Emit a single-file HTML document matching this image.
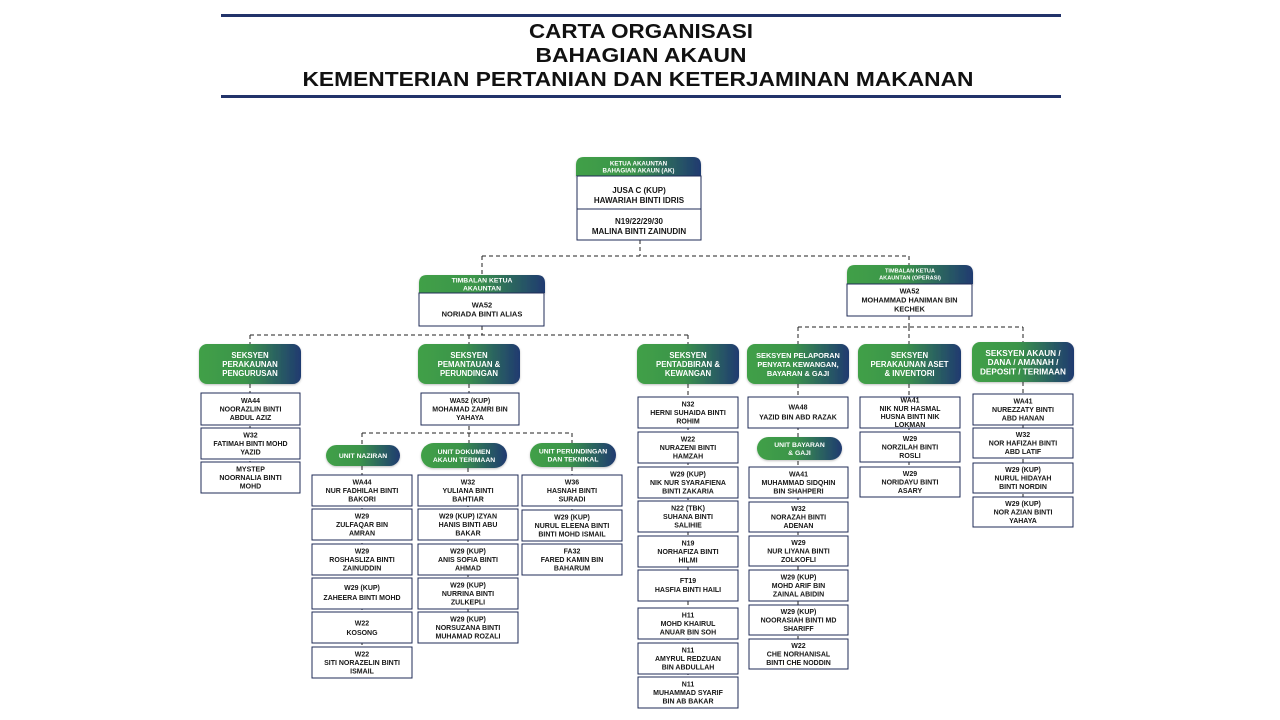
<!DOCTYPE html>
<html><head><meta charset="utf-8"><style>
html,body{margin:0;padding:0;background:#fff;}
svg{display:block;}
.ti{font-family:"Liberation Sans",sans-serif;font-weight:bold;font-size:20px;fill:#111;text-anchor:middle;}
.t{font-family:"Liberation Sans",sans-serif;font-weight:bold;font-size:7px;fill:#161616;text-anchor:middle;}
.tb{font-family:"Liberation Sans",sans-serif;font-weight:bold;font-size:8px;fill:#161616;text-anchor:middle;}
.tm{font-family:"Liberation Sans",sans-serif;font-weight:bold;font-size:7.5px;fill:#161616;text-anchor:middle;}
.w{font-family:"Liberation Sans",sans-serif;font-weight:bold;font-size:7.8px;fill:#fff;text-anchor:middle;}
.ws{font-family:"Liberation Sans",sans-serif;font-weight:bold;font-size:6.8px;fill:#fff;text-anchor:middle;}
.wt{font-family:"Liberation Sans",sans-serif;font-weight:bold;font-size:6.2px;fill:#fff;text-anchor:middle;}
.b{fill:#fff;stroke:#1f2b57;stroke-width:1;}
.p{fill:url(#g);filter:url(#s);}
.d{stroke:#222;stroke-width:1;stroke-dasharray:4 3;fill:none;}
</style></head><body>
<svg width="1280" height="720" viewBox="0 0 1280 720" xmlns="http://www.w3.org/2000/svg">
<defs>
<linearGradient id="g" x1="0" y1="0" x2="1" y2="0">
<stop offset="0" stop-color="#41a047"/>
<stop offset="0.45" stop-color="#3b944a"/>
<stop offset="0.75" stop-color="#2b6360"/>
<stop offset="1" stop-color="#1f3a70"/>
</linearGradient>
<filter id="s" x="-10%" y="-10%" width="120%" height="130%"><feDropShadow dx="0" dy="1" stdDeviation="1" flood-opacity="0.25"/></filter>
</defs>
<rect width="1280" height="720" fill="#fff"/>

<!-- Title -->
<rect x="221" y="14" width="840" height="3" fill="#22336a"/>
<rect x="221" y="95" width="840" height="3" fill="#22336a"/>
<text class="ti" x="641" y="38" textLength="224" lengthAdjust="spacingAndGlyphs">CARTA ORGANISASI</text>
<text class="ti" x="641" y="62" textLength="211" lengthAdjust="spacingAndGlyphs">BAHAGIAN AKAUN</text>
<text class="ti" x="638" y="86" textLength="671" lengthAdjust="spacingAndGlyphs">KEMENTERIAN PERTANIAN DAN KETERJAMINAN MAKANAN</text>

<!-- Connectors -->
<g class="d">
<path d="M640 240V256M482 256H909M482 256V275M909 256V265"/>
<path d="M482 326V335M250 335H688M250 335V344M469 335V344M688 335V344"/>
<path d="M909 316V327M798 327H1023M798 327V344M909 327V344M1023 327V342"/>
<path d="M250 384V462"/>
<path d="M469 384V433M362 433H572M362 433V445M469 433V443M572 433V443"/>
<path d="M362 466V647M468 468V612M572 467V545"/>
<path d="M688 384V677"/>
<path d="M798 384V639"/>
<path d="M909 384V467"/>
<path d="M1023 382V497"/>
</g>

<!-- Top node -->
<path class="p" d="M576 176V165Q576 157 584 157H693Q701 157 701 165V176Z"/>
<text class="wt" x="638.5" y="165.5">KETUA AKAUNTAN</text>
<text class="wt" x="638.5" y="172.5">BAHAGIAN AKAUN (AK)</text>
<rect class="b" x="577" y="176" width="124" height="64"/>
<line x1="577" y1="209" x2="701" y2="209" stroke="#1f2b57" stroke-width="1"/>
<text class="tb" x="639" y="193">JUSA C (KUP)</text>
<text class="tb" x="639" y="203">HAWARIAH BINTI IDRIS</text>
<text class="tb" x="639" y="224">N19/22/29/30</text>
<text class="tb" x="639" y="234">MALINA BINTI ZAINUDIN</text>

<!-- Left Timbalan -->
<path class="p" d="M419 293V283Q419 275 427 275H537Q545 275 545 283V293Z"/>
<text class="ws" x="482" y="282.5">TIMBALAN KETUA</text>
<text class="ws" x="482" y="290.5">AKAUNTAN</text>
<rect class="b" x="419" y="293" width="125" height="33"/>
<text class="tm" x="482" y="307.7">WA52</text>
<text class="tm" x="482" y="316.7">NORIADA BINTI ALIAS</text>

<!-- Right Timbalan -->
<path class="p" d="M847 284V273Q847 265 855 265H965Q973 265 973 273V284Z"/>
<text class="wt" x="910" y="272.5" style="font-size:5.6px">TIMBALAN KETUA</text>
<text class="wt" x="910" y="279.5" style="font-size:5.6px">AKAUNTAN (OPERASI)</text>
<rect class="b" x="847" y="284" width="125" height="32"/>
<text class="t" x="909.5" y="293.7" style="font-size:7.3px">WA52</text>
<text class="t" x="909.5" y="302.7" style="font-size:7.3px">MOHAMMAD HANIMAN BIN</text>
<text class="t" x="909.5" y="311.7" style="font-size:7.3px">KECHEK</text>

<!-- Section pills -->
<rect class="p" x="199" y="344" width="102" height="40" rx="8"/>
<text class="w" x="250" y="358">SEKSYEN</text><text class="w" x="250" y="367">PERAKAUNAN</text><text class="w" x="250" y="376">PENGURUSAN</text>

<rect class="p" x="418" y="344" width="102" height="40" rx="8"/>
<text class="w" x="469" y="358">SEKSYEN</text><text class="w" x="469" y="367">PEMANTAUAN &amp;</text><text class="w" x="469" y="376">PERUNDINGAN</text>

<rect class="p" x="637" y="344" width="102" height="40" rx="8"/>
<text class="w" x="688" y="358">SEKSYEN</text><text class="w" x="688" y="367">PENTADBIRAN &amp;</text><text class="w" x="688" y="376">KEWANGAN</text>

<rect class="p" x="747" y="344" width="102" height="40" rx="8"/>
<text class="w" x="798" y="358" style="font-size:7.4px">SEKSYEN PELAPORAN</text><text class="w" x="798" y="367" style="font-size:7.4px">PENYATA KEWANGAN,</text><text class="w" x="798" y="376" style="font-size:7.4px">BAYARAN &amp; GAJI</text>

<rect class="p" x="858" y="344" width="103" height="40" rx="8"/>
<text class="w" x="909.5" y="358">SEKSYEN</text><text class="w" x="909.5" y="367">PERAKAUNAN ASET</text><text class="w" x="909.5" y="376">&amp; INVENTORI</text>

<rect class="p" x="972" y="342" width="102" height="40" rx="8"/>
<text class="w" x="1023" y="356" style="font-size:8.2px">SEKSYEN AKAUN /</text><text class="w" x="1023" y="365" style="font-size:8.2px">DANA / AMANAH /</text><text class="w" x="1023" y="374.5" style="font-size:8.2px">DEPOSIT / TERIMAAN</text>

<!-- Sec1 boxes -->
<rect class="b" x="201" y="393" width="99" height="32"/>
<text class="t" x="250.5" y="403">WA44</text><text class="t" x="250.5" y="411.5">NOORAZLIN BINTI</text><text class="t" x="250.5" y="420">ABDUL AZIZ</text>
<rect class="b" x="201" y="428" width="99" height="31"/>
<text class="t" x="250.5" y="437.5">W32</text><text class="t" x="250.5" y="446">FATIMAH BINTI MOHD</text><text class="t" x="250.5" y="454.5">YAZID</text>
<rect class="b" x="201" y="462" width="99" height="31"/>
<text class="t" x="250.5" y="471.5">MYSTEP</text><text class="t" x="250.5" y="480">NOORNALIA BINTI</text><text class="t" x="250.5" y="488.5">MOHD</text>

<!-- Sec2 box -->
<rect class="b" x="421" y="393" width="98" height="32"/>
<text class="t" x="470" y="403">WA52 (KUP)</text><text class="t" x="470" y="411.5">MOHAMAD ZAMRI BIN</text><text class="t" x="470" y="420">YAHAYA</text>

<!-- Unit pills -->
<rect class="p" x="326" y="445" width="74" height="21" rx="10.5"/>
<text class="ws" x="363" y="458">UNIT NAZIRAN</text>
<rect class="p" x="421" y="443" width="86" height="25" rx="12.5"/>
<text class="ws" x="464" y="454">UNIT DOKUMEN</text><text class="ws" x="464" y="462">AKAUN TERIMAAN</text>
<rect class="p" x="530" y="443" width="86" height="24" rx="12"/>
<text class="ws" x="573" y="453.5">UNIT PERUNDINGAN</text><text class="ws" x="573" y="461.5">DAN TEKNIKAL</text>

<!-- Naziran boxes -->
<rect class="b" x="312" y="475" width="100" height="31"/>
<text class="t" x="362" y="484.5">WA44</text><text class="t" x="362" y="493">NUR FADHILAH BINTI</text><text class="t" x="362" y="501.5">BAKORI</text>
<rect class="b" x="312" y="509" width="100" height="31"/>
<text class="t" x="362" y="518.5">W29</text><text class="t" x="362" y="527">ZULFAQAR BIN</text><text class="t" x="362" y="535.5">AMRAN</text>
<rect class="b" x="312" y="544" width="100" height="31"/>
<text class="t" x="362" y="553.5">W29</text><text class="t" x="362" y="562">ROSHASLIZA BINTI</text><text class="t" x="362" y="570.5">ZAINUDDIN</text>
<rect class="b" x="312" y="578" width="100" height="31"/>
<text class="t" x="362" y="590">W29 (KUP)</text><text class="t" x="362" y="600">ZAHEERA BINTI MOHD</text>
<rect class="b" x="312" y="612" width="100" height="31"/>
<text class="t" x="362" y="625.5">W22</text><text class="t" x="362" y="635">KOSONG</text>
<rect class="b" x="312" y="647" width="100" height="31"/>
<text class="t" x="362" y="656.5">W22</text><text class="t" x="362" y="665">SITI NORAZELIN BINTI</text><text class="t" x="362" y="673.5">ISMAIL</text>

<!-- Dokumen boxes -->
<rect class="b" x="418" y="475" width="100" height="31"/>
<text class="t" x="468" y="484.5">W32</text><text class="t" x="468" y="493">YULIANA BINTI</text><text class="t" x="468" y="501.5">BAHTIAR</text>
<rect class="b" x="418" y="509" width="100" height="31"/>
<text class="t" x="468" y="518.5">W29 (KUP) IZYAN</text><text class="t" x="468" y="527">HANIS BINTI ABU</text><text class="t" x="468" y="535.5">BAKAR</text>
<rect class="b" x="418" y="544" width="100" height="31"/>
<text class="t" x="468" y="553.5">W29 (KUP)</text><text class="t" x="468" y="562">ANIS SOFIA BINTI</text><text class="t" x="468" y="570.5">AHMAD</text>
<rect class="b" x="418" y="578" width="100" height="31"/>
<text class="t" x="468" y="587.5">W29 (KUP)</text><text class="t" x="468" y="596">NURRINA BINTI</text><text class="t" x="468" y="604.5">ZULKEPLI</text>
<rect class="b" x="418" y="612" width="100" height="31"/>
<text class="t" x="468" y="621.5">W29 (KUP)</text><text class="t" x="468" y="630">NORSUZANA BINTI</text><text class="t" x="468" y="638.5">MUHAMAD ROZALI</text>

<!-- Perundingan boxes -->
<rect class="b" x="522" y="475" width="100" height="31"/>
<text class="t" x="572" y="484.5">W36</text><text class="t" x="572" y="493">HASNAH BINTI</text><text class="t" x="572" y="501.5">SURADI</text>
<rect class="b" x="522" y="510" width="100" height="31"/>
<text class="t" x="572" y="519.5">W29 (KUP)</text><text class="t" x="572" y="528">NURUL ELEENA BINTI</text><text class="t" x="572" y="536.5">BINTI MOHD ISMAIL</text>
<rect class="b" x="522" y="544" width="100" height="31"/>
<text class="t" x="572" y="553.5">FA32</text><text class="t" x="572" y="562">FARED KAMIN BIN</text><text class="t" x="572" y="570.5">BAHARUM</text>

<!-- Sec3 boxes -->
<rect class="b" x="638" y="397" width="100" height="31"/>
<text class="t" x="688" y="406.5">N32</text><text class="t" x="688" y="415">HERNI SUHAIDA BINTI</text><text class="t" x="688" y="423.5">ROHIM</text>
<rect class="b" x="638" y="432" width="100" height="31"/>
<text class="t" x="688" y="441.5">W22</text><text class="t" x="688" y="450">NURAZENI BINTI</text><text class="t" x="688" y="458.5">HAMZAH</text>
<rect class="b" x="638" y="467" width="100" height="31"/>
<text class="t" x="688" y="476.5">W29 (KUP)</text><text class="t" x="688" y="485">NIK NUR SYARAFIENA</text><text class="t" x="688" y="493.5">BINTI ZAKARIA</text>
<rect class="b" x="638" y="501" width="100" height="31"/>
<text class="t" x="688" y="510.5">N22 (TBK)</text><text class="t" x="688" y="519">SUHANA BINTI</text><text class="t" x="688" y="527.5">SALIHIE</text>
<rect class="b" x="638" y="536" width="100" height="31"/>
<text class="t" x="688" y="545.5">N19</text><text class="t" x="688" y="554">NORHAFIZA BINTI</text><text class="t" x="688" y="562.5">HILMI</text>
<rect class="b" x="638" y="570" width="100" height="31"/>
<text class="t" x="688" y="583">FT19</text><text class="t" x="688" y="592">HASFIA BINTI HAILI</text>
<rect class="b" x="638" y="608" width="100" height="31"/>
<text class="t" x="688" y="617.5">H11</text><text class="t" x="688" y="626">MOHD KHAIRUL</text><text class="t" x="688" y="634.5">ANUAR BIN SOH</text>
<rect class="b" x="638" y="643" width="100" height="31"/>
<text class="t" x="688" y="652.5">N11</text><text class="t" x="688" y="661">AMYRUL REDZUAN</text><text class="t" x="688" y="669.5">BIN ABDULLAH</text>
<rect class="b" x="638" y="677" width="100" height="31"/>
<text class="t" x="688" y="686.5">N11</text><text class="t" x="688" y="695">MUHAMMAD SYARIF</text><text class="t" x="688" y="703.5">BIN AB BAKAR</text>

<!-- Sec4 -->
<rect class="b" x="748" y="397" width="100" height="31"/>
<text class="t" x="798" y="409.5">WA48</text><text class="t" x="798" y="419.5">YAZID BIN ABD RAZAK</text>
<rect class="p" x="757" y="437" width="85" height="23" rx="11.5"/>
<text class="ws" x="799.5" y="447">UNIT BAYARAN</text><text class="ws" x="799.5" y="455">&amp; GAJI</text>
<rect class="b" x="749" y="467" width="99" height="31"/>
<text class="t" x="798.5" y="476.5">WA41</text><text class="t" x="798.5" y="485">MUHAMMAD SIDQHIN</text><text class="t" x="798.5" y="493.5">BIN SHAHPERI</text>
<rect class="b" x="749" y="502" width="99" height="30"/>
<text class="t" x="798.5" y="511">W32</text><text class="t" x="798.5" y="519.5">NORAZAH BINTI</text><text class="t" x="798.5" y="528">ADENAN</text>
<rect class="b" x="749" y="536" width="99" height="30"/>
<text class="t" x="798.5" y="545">W29</text><text class="t" x="798.5" y="553.5">NUR LIYANA BINTI</text><text class="t" x="798.5" y="562">ZOLKOFLI</text>
<rect class="b" x="749" y="570" width="99" height="31"/>
<text class="t" x="798.5" y="579.5">W29 (KUP)</text><text class="t" x="798.5" y="588">MOHD ARIF BIN</text><text class="t" x="798.5" y="596.5">ZAINAL ABIDIN</text>
<rect class="b" x="749" y="605" width="99" height="30"/>
<text class="t" x="798.5" y="614">W29 (KUP)</text><text class="t" x="798.5" y="622.5">NOORASIAH BINTI MD</text><text class="t" x="798.5" y="631">SHARIFF</text>
<rect class="b" x="749" y="639" width="99" height="30"/>
<text class="t" x="798.5" y="648">W22</text><text class="t" x="798.5" y="656.5">CHE NORHANISAL</text><text class="t" x="798.5" y="665">BINTI CHE NODDIN</text>

<!-- Sec5 -->
<rect class="b" x="860" y="397" width="100" height="31"/>
<text class="t" x="910" y="402.5">WA41</text><text class="t" x="910" y="411">NIK NUR HASMAL</text><text class="t" x="910" y="419">HUSNA BINTI NIK</text><text class="t" x="910" y="427">LOKMAN</text>
<rect class="b" x="860" y="432" width="100" height="30"/>
<text class="t" x="910" y="441">W29</text><text class="t" x="910" y="449.5">NORZILAH BINTI</text><text class="t" x="910" y="458">ROSLI</text>
<rect class="b" x="860" y="467" width="100" height="30"/>
<text class="t" x="910" y="476">W29</text><text class="t" x="910" y="484.5">NORIDAYU BINTI</text><text class="t" x="910" y="493">ASARY</text>

<!-- Sec6 -->
<rect class="b" x="973" y="394" width="100" height="31"/>
<text class="t" x="1023" y="403.5">WA41</text><text class="t" x="1023" y="412">NUREZZATY BINTI</text><text class="t" x="1023" y="420.5">ABD HANAN</text>
<rect class="b" x="973" y="428" width="100" height="30"/>
<text class="t" x="1023" y="437">W32</text><text class="t" x="1023" y="445.5">NOR HAFIZAH BINTI</text><text class="t" x="1023" y="454">ABD LATIF</text>
<rect class="b" x="973" y="463" width="100" height="30"/>
<text class="t" x="1023" y="472">W29 (KUP)</text><text class="t" x="1023" y="480.5">NURUL HIDAYAH</text><text class="t" x="1023" y="489">BINTI NORDIN</text>
<rect class="b" x="973" y="497" width="100" height="30"/>
<text class="t" x="1023" y="506">W29 (KUP)</text><text class="t" x="1023" y="514.5">NOR AZIAN BINTI</text><text class="t" x="1023" y="523">YAHAYA</text>
</svg>
</body></html>
